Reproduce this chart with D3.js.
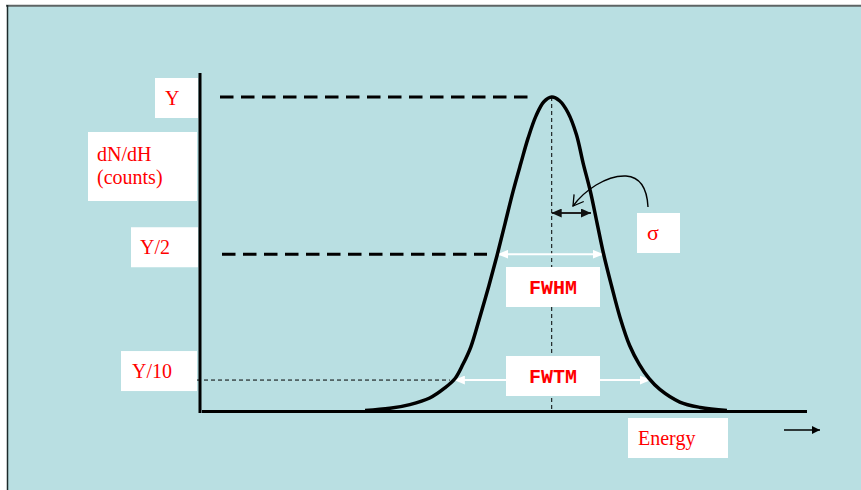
<!DOCTYPE html>
<html>
<head>
<meta charset="utf-8">
<script src="https://cdn.jsdelivr.net/npm/d3@7/dist/d3.min.js"></script>
<style>
  html, body { margin: 0; padding: 0; background: #ffffff; }
  svg { display: block; }
</style>
</head>
<body>
<script>
// Energy spectrum peak: relative energy (0–100) and normalised counts (peak = 1)
const energy = [27.0, 31.1, 34.4, 37.7, 40.2, 41.9, 43.2, 44.5, 46.0, 47.5, 48.9, 50.2, 51.5, 52.8, 54.0, 55.3, 56.6, 57.9,
                59.2, 60.6, 62.0, 63.1, 64.3, 65.4, 66.5, 67.8, 69.2, 70.8, 72.4, 74.0, 75.8, 79.1, 82.5, 86.9];
const counts = [0.003, 0.010, 0.022, 0.043, 0.075, 0.105, 0.150, 0.205, 0.300, 0.400, 0.500, 0.600, 0.700, 0.790, 0.870, 0.940, 0.985, 1.000,
                0.988, 0.950, 0.880, 0.790, 0.700, 0.600, 0.500, 0.400, 0.300, 0.210, 0.150, 0.105, 0.070, 0.030, 0.013, 0.003];

// Reference levels on the counts axis
const levelLabels = ["Y", "Y/2", "Y/10"];
const levelValues = [1, 0.5, 0.1];

// Peak centre, widths at half / tenth maximum, and standard deviation
const peakEnergy = 57.9;
const fwhmEdges = [48.9, 66.5];
const fwtmEdges = [41.7, 74.3];
const sigmaWidth = 6.5;

const W = 861, H = 490;
const svg = d3.select("body").append("svg").attr("width", W).attr("height", H);

// slide frame
svg.append("rect").attr("x", 7).attr("y", 6).attr("width", W - 7).attr("height", H - 6).attr("fill", "#b9dfe2");
svg.append("line").attr("x1", 6).attr("x2", W).attr("y1", 5.8).attr("y2", 5.8).attr("stroke", "#5e6464").attr("stroke-width", 2);
svg.append("line").attr("x1", 7.5).attr("x2", 7.5).attr("y1", 5).attr("y2", H).attr("stroke", "#1d2b2b").attr("stroke-width", 1.5);

const x = d3.scaleLinear().domain([0, 100]).range([202, 806]);
const y = d3.scaleLinear().domain([0, 1]).range([411.5, 97]);

const defs = svg.append("defs");
function tri(id, color, len, half) {
  defs.append("marker").attr("id", id).attr("markerUnits", "userSpaceOnUse")
    .attr("viewBox", `0 ${-half} ${len} ${2 * half}`).attr("refX", len).attr("refY", 0)
    .attr("markerWidth", len).attr("markerHeight", 2 * half).attr("orient", "auto-start-reverse")
    .append("path").attr("d", `M0,${-half}L${len},0L0,${half}Z`).attr("fill", color);
}
tri("whiteHead", "#ffffff", 11, 4.5);
tri("blackHead", "#111111", 10, 4.5);
tri("axisHead", "#000000", 8, 4);
defs.append("marker").attr("id", "openHead").attr("markerUnits", "userSpaceOnUse")
  .attr("viewBox", "-1 -7 12 14").attr("refX", 10).attr("refY", 0)
  .attr("markerWidth", 12).attr("markerHeight", 14).attr("orient", "auto")
  .append("path").attr("d", "M0,-6L10,0L0,6").attr("fill", "none").attr("stroke", "#000").attr("stroke-width", 1.3);

// level guide lines
svg.append("line").attr("x1", 220).attr("x2", 528).attr("y1", y(levelValues[0])).attr("y2", y(levelValues[0]))
  .attr("stroke", "#000").attr("stroke-width", 3).attr("stroke-dasharray", "13.5,7.5");
svg.append("line").attr("x1", 222).attr("x2", 487).attr("y1", y(levelValues[1])).attr("y2", y(levelValues[1]))
  .attr("stroke", "#000").attr("stroke-width", 3).attr("stroke-dasharray", "13.5,7.5");
svg.append("line").attr("x1", 197).attr("x2", x(fwtmEdges[0]) - 4).attr("y1", y(levelValues[2])).attr("y2", y(levelValues[2]))
  .attr("stroke", "#000").attr("stroke-width", 1).attr("stroke-dasharray", "4,3");

// peak centre line
svg.append("line").attr("x1", x(peakEnergy)).attr("x2", x(peakEnergy)).attr("y1", y(1)).attr("y2", y(0))
  .attr("stroke", "#000").attr("stroke-width", 1).attr("stroke-dasharray", "4,3");

// width arrows
svg.append("line").attr("x1", x(fwhmEdges[0])).attr("x2", x(fwhmEdges[1])).attr("y1", y(0.5)).attr("y2", y(0.5))
  .attr("stroke", "#ffffff").attr("stroke-width", 2)
  .attr("marker-start", "url(#whiteHead)").attr("marker-end", "url(#whiteHead)");
svg.append("line").attr("x1", x(fwtmEdges[0])).attr("x2", x(fwtmEdges[1])).attr("y1", y(0.1)).attr("y2", y(0.1))
  .attr("stroke", "#ffffff").attr("stroke-width", 2)
  .attr("marker-start", "url(#whiteHead)").attr("marker-end", "url(#whiteHead)");

// sigma arrow
const sigY = 213;
svg.append("line").attr("x1", x(peakEnergy)).attr("x2", x(peakEnergy + sigmaWidth)).attr("y1", sigY).attr("y2", sigY)
  .attr("stroke", "#222").attr("stroke-width", 2)
  .attr("marker-start", "url(#blackHead)").attr("marker-end", "url(#blackHead)");
svg.append("path").attr("d", "M648,207 C647,187 640,177 626,176 C606,175 584,191 573,206")
  .attr("fill", "none").attr("stroke", "#000").attr("stroke-width", 1.4).attr("marker-end", "url(#openHead)");

// the spectrum peak
const line = d3.line().x((d, i) => x(energy[i])).y((d, i) => y(counts[i])).curve(d3.curveCatmullRom.alpha(0.5));
svg.append("path").datum(counts).attr("d", line)
  .attr("fill", "none").attr("stroke", "#000").attr("stroke-width", 3.5).attr("stroke-linejoin", "round");

// axes
svg.append("line").attr("x1", 200).attr("x2", 200).attr("y1", 73).attr("y2", 413).attr("stroke", "#000").attr("stroke-width", 3);
svg.append("line").attr("x1", 202).attr("x2", 807).attr("y1", 411.5).attr("y2", 411.5).attr("stroke", "#000").attr("stroke-width", 3);
svg.append("line").attr("x1", 784).attr("x2", 820).attr("y1", 430).attr("y2", 430)
  .attr("stroke", "#000").attr("stroke-width", 1.5).attr("marker-end", "url(#axisHead)");

// labelled white boxes
const serif = "'Liberation Serif', 'Times New Roman', serif";
const mono = "'Courier New', 'Liberation Mono', monospace";
function box(x0, y0, w, h) {
  svg.append("rect").attr("x", x0).attr("y", y0).attr("width", w).attr("height", h).attr("fill", "#ffffff");
}
function label(tx, ty, t, font, size, weight, anchor) {
  svg.append("text").attr("x", tx).attr("y", ty).text(t)
    .attr("font-family", font).attr("font-size", size).attr("font-weight", weight || "normal")
    .attr("text-anchor", anchor || "start").attr("fill", "#ff0000");
}

const levelBoxes = [
  { x0: 155, top: y(levelValues[0]) - 19, w: 43, tx: 165 },
  { x0: 131, top: y(levelValues[1]) - 27, w: 67, tx: 140 },
  { x0: 121, top: y(levelValues[2]) - 29, w: 76, tx: 132 }
];
levelLabels.forEach((t, i) => {
  const b = levelBoxes[i];
  box(b.x0, b.top, b.w, 40);
  label(b.tx, b.top + 27, t, serif, 20);
});

box(88, 132, 109, 69);
label(97, 161, "dN/dH", serif, 20);
label(97, 184, "(counts)", serif, 20);

box(506, 267, 94, 40);
label(553, 294, "FWHM", mono, 20, "bold", "middle");
box(506, 356, 94, 40);
label(553, 383, "FWTM", mono, 20, "bold", "middle");

box(637, 213, 43, 40);
label(647, 240, "σ", serif, 22);

box(628, 418, 100, 40);
label(638, 445, "Energy", serif, 20);
</script>
</body>
</html>
